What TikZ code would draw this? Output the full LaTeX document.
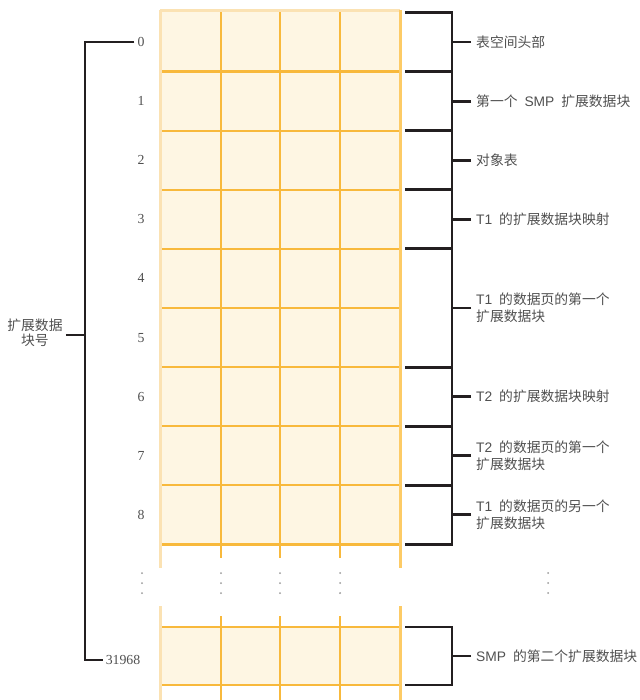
\documentclass[tikz,border=0pt]{standalone}
\usepackage{fontspec}
\usepackage{xcolor}
\setmainfont{Liberation Sans}
\newfontfamily\cjk{Noto Sans CJK SC}
\newfontfamily\numfont{Liberation Serif}
\newcommand\zh[1]{{\cjk #1}}
\definecolor{cellfill}{HTML}{FEF6E3}
\definecolor{gridline}{HTML}{F8B93C}
\definecolor{edgelight}{HTML}{FBE2B3}
\definecolor{edgedark}{HTML}{FDCB66}
\definecolor{bracketblack}{HTML}{231F20}
\definecolor{labelgray}{HTML}{505050}
\usetikzlibrary{positioning, calc}

\begin{document}
\begin{tikzpicture}[
    x=1pt, y=-1pt,
    grid/.style={draw=gridline, line width=2.2pt},
    leftedge/.style={draw=edgelight, line width=3pt},
    rightedge/.style={draw=edgedark, line width=3pt},
    brace/.style={draw=bracketblack, line width=2.9pt},
    blocknum/.style={font=\numfont\fontsize{13.8}{16}\selectfont, text=labelgray, inner sep=3pt},
    part/.style={anchor=west, align=left, font=\fontsize{13.8}{16.5}\selectfont, text=labelgray, inner sep=0pt},
    dot/.style={fill=black!40, circle, inner sep=0pt, minimum size=2pt}
]
    \useasboundingbox (0,0) rectangle (639,700);

    % the two pieces of the block column
    \fill[cellfill] (160,12.5) rectangle (400,544.4);
    \fill[cellfill] (160,627) rectangle (400,685);
    \foreach \k in {1,...,9}
        \draw[grid] (160,12.5+59.1*\k) -- (400,12.5+59.1*\k);
    \draw[grid] (160,627) -- (400,627) (160,685) -- (400,685);
    \foreach \x in {221,280,340} {
        \draw[grid] (\x,12.5) -- (\x,558);
        \draw[grid] (\x,616) -- (\x,700);
    }
    \draw[leftedge] (160,11) -- (400,11);
    \draw[leftedge] (160,10) -- (160,568) (160,606) -- (160,700);
    \draw[rightedge] (400,10) -- (400,568) (400,606) -- (400,700);

    \foreach \x in {142,221,280,340,548}
        \foreach \y in {573,583,593}
            \node[dot] at (\x,\y) {};

    \foreach \k in {0,...,8}
        \node[blocknum] (n\k) at (141,42.05+59.1*\k) {\k};
    \node[blocknum] (nlast) at (123,660) {31968};

    \node[align=center, font=\cjk\fontsize{13.8}{15.5}\selectfont, text=labelgray, inner sep=3pt] (axis) at (35,333) {扩展数据\\块号};
    \coordinate (lb) at (85,335);
    \draw[brace] (n0.west) -| (lb) |- (nlast.west);
    \draw[brace] (axis.east |- lb) -- (lb);

    \foreach \a/\b/\txt [count=\i] in {
        0/1/\zh{表空间头部},
        1/2/\zh{第一个}\enspace SMP\enspace\zh{扩展数据块},
        2/3/\zh{对象表},
        3/4/T1\enspace\zh{的扩展数据块映射},
        4/6/T1\enspace\zh{的数据页的第一个}\\\zh{扩展数据块},
        6/7/T2\enspace\zh{的扩展数据块映射},
        7/8/T2\enspace\zh{的数据页的第一个}\\\zh{扩展数据块},
        8/9/T1\enspace\zh{的数据页的另一个}\\\zh{扩展数据块}} {
        \coordinate (top\i) at (405,12.5+59.1*\a);
        \coordinate (bot\i) at (405,12.5+59.1*\b);
        \node[part] (part\i) at (476,12.5+29.55*\a+29.55*\b) {\txt};
        \draw[brace] (top\i) -- ++(47,0) |- (bot\i);
        \draw[brace] (part\i.west) ++(-5,0) -- ++(-19,0);
    }

    \coordinate (toplast) at (405,627);
    \coordinate (botlast) at (405,685);
    \node[part] (partlast) at (476,656) {SMP\enspace\zh{的第二个扩展数据块}};
    \draw[brace] (toplast) -- ++(47,0) |- (botlast);
    \draw[brace] (partlast.west) ++(-5,0) -- ++(-19,0);
\end{tikzpicture}
\end{document}
